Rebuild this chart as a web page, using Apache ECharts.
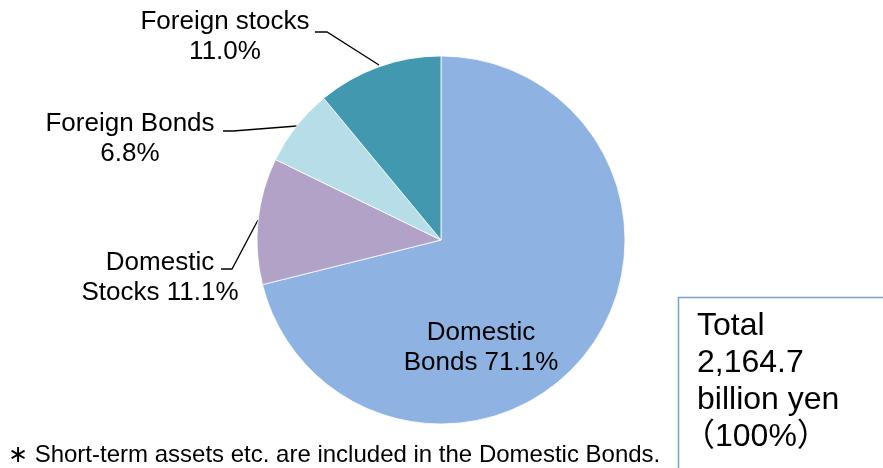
<!DOCTYPE html>
<html><head>
<meta charset="UTF-8">
<title>Portfolio</title>
<script src="https://cdn.jsdelivr.net/npm/echarts@6/dist/echarts.min.js"></script>
<style>
html,body{margin:0;padding:0;background:#fff;}
#main{width:883px;height:468px;}
</style>
</head>
<body>
<div id="main"></div>
<script>
var names = ['Domestic Bonds', 'Domestic Stocks', 'Foreign Bonds', 'Foreign stocks'];
var values = [71.1, 11.1, 6.8, 11.0];
var colors = ['#8eb3e2', '#b2a2c7', '#b7dde8', '#4298af'];
var totalLines = ['Total', '2,164.7', 'billion yen', '\uff08100%\uff09'];
var note = '\u2217 Short-term assets etc. are included in the Domestic Bonds.';

// where each label goes, and its leader line
var labelPos = [
    {x: 481, y: 348, line: null},
    {x: 160, y: 278, line: [[221, 269], [232, 269], [258, 220]]},
    {x: 130, y: 139, line: [[223, 131], [233, 131], [297, 126]]},
    {x: 225, y: 37, line: [[315, 32], [327, 32], [379, 65]]}
];

var font = '"Liberation Sans", Arial, "Noto Sans CJK JP", sans-serif';

var data = [];
for (var i = 0; i < names.length; i++) {
    data.push({
        name: names[i],
        value: values[i],
        itemStyle: {color: colors[i]},
        labelLine: {show: labelPos[i].line != null}
    });
}

var graphics = [{
    type: 'rect',
    shape: {x: 678.5, y: 297.5, width: 300, height: 300},
    style: {fill: 'none', stroke: '#7f9fcb', lineWidth: 1.5}
}];
totalLines.forEach(function (t, k) {
    // full-width bracket has its own left padding, pull it back a bit
    var dx = t.charAt(0) === '\uff08' ? -14 : 0;
    graphics.push({
        type: 'text',
        x: 697 + dx, y: 310 + k * 37,
        style: {text: t, font: '32px ' + font, fill: '#000'}
    });
});
graphics.push({
    type: 'text',
    x: 8, y: 443,
    style: {text: note, font: '24px ' + font, fill: '#000'}
});

var chart = echarts.init(document.getElementById('main'));
chart.setOption({
    animation: false,
    series: [{
        type: 'pie',
        center: [441, 240],
        radius: [0, 184],
        startAngle: 90,
        clockwise: true,
        data: data,
        itemStyle: {borderColor: '#fff', borderWidth: 0.8},
        label: {
            show: true,
            color: '#000',
            fontFamily: font,
            fontSize: 26,
            lineHeight: 30,
            align: 'center',
            formatter: function (p) {
                var v = p.value.toFixed(1) + '%';
                if (p.name.indexOf('Domestic') === 0) {
                    return p.name.replace(' ', '\n') + ' ' + v;
                }
                return p.name + '\n' + v;
            }
        },
        labelLine: {lineStyle: {color: '#000', width: 1.3}},
        labelLayout: function (params) {
            var lp = labelPos[params.dataIndex];
            var r = {x: lp.x, y: lp.y, align: 'center', verticalAlign: 'middle'};
            if (lp.line) r.labelLinePoints = lp.line;
            return r;
        }
    }],
    graphic: graphics
});
</script>
</body></html>
